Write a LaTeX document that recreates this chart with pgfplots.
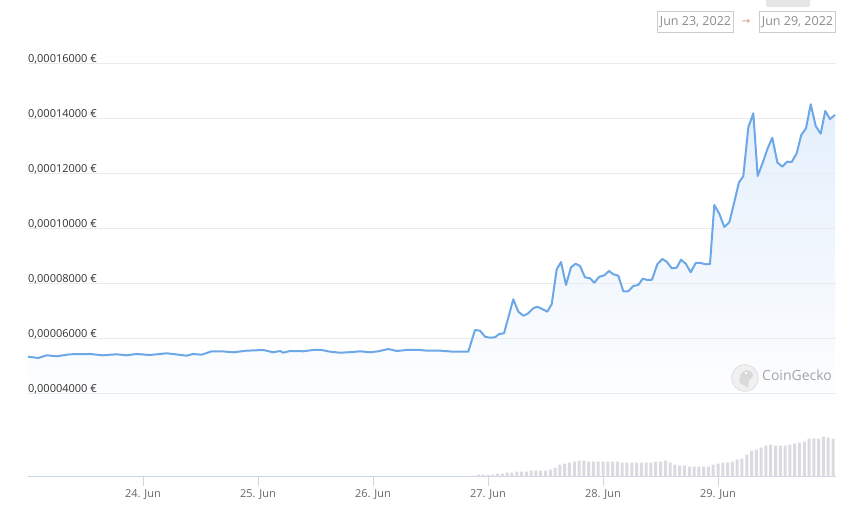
\documentclass[border=0pt]{standalone}
\usepackage{pgfplots}
\pgfplotsset{compat=1.18}
\usepackage{pgfplotstable}
\usepackage{fontspec}
\setmainfont{Open Sans}
\newfontfamily\dejavu{DejaVu Sans}
\definecolor{linec}{RGB}{108,168,232}
\definecolor{fillc}{RGB}{228,239,252}
\definecolor{gridc}{RGB}{235,235,235}
\definecolor{axisc}{RGB}{204,214,235}
\definecolor{volc}{RGB}{218,218,224}
\definecolor{ylab}{RGB}{51,51,51}
\definecolor{xlab}{RGB}{102,102,102}
\definecolor{datec}{RGB}{140,140,140}
\definecolor{boxc}{RGB}{204,204,204}
\definecolor{arrowc}{RGB}{214,150,120}
\definecolor{topbox}{RGB}{230,230,230}
\definecolor{wmark}{RGB}{165,165,165}

\pgfplotstableread{
h v
0 5.356e-5
2.15 5.309e-5
3.90 5.407e-5
5.99 5.371e-5
8.77 5.444e-5
12.94 5.455e-5
15.65 5.407e-5
18.51 5.444e-5
20.60 5.407e-5
22.69 5.455e-5
25.46 5.418e-5
28.95 5.480e-5
33.12 5.393e-5
34.43 5.455e-5
36.25 5.429e-5
38.34 5.553e-5
40.42 5.553e-5
42.85 5.516e-5
45.64 5.575e-5
49.11 5.600e-5
51.19 5.516e-5
52.59 5.564e-5
53.28 5.502e-5
54.68 5.564e-5
57.45 5.553e-5
59.54 5.600e-5
61.29 5.600e-5
63.03 5.538e-5
65.11 5.502e-5
67.89 5.527e-5
69.29 5.553e-5
71.37 5.516e-5
73.11 5.553e-5
75.19 5.636e-5
76.95 5.564e-5
79.03 5.600e-5
81.81 5.600e-5
83.21 5.575e-5
85.98 5.575e-5
88.76 5.538e-5
91.89 5.538e-5
93.29 6.327e-5
94.33 6.302e-5
95.37 6.084e-5
96.42 6.047e-5
97.46 6.062e-5
98.36 6.182e-5
99.34 6.207e-5
101.28 7.444e-5
102.32 6.993e-5
103.37 6.847e-5
104.41 6.935e-5
105.45 7.116e-5
106.29 7.175e-5
107.42 7.080e-5
108.38 6.993e-5
109.29 7.262e-5
110.34 8.535e-5
111.24 8.800e-5
112.28 7.964e-5
113.32 8.607e-5
114.30 8.738e-5
115.20 8.655e-5
116.24 8.244e-5
117.29 8.207e-5
118.18 8.047e-5
119.23 8.265e-5
120.27 8.316e-5
121.25 8.473e-5
122.15 8.353e-5
123.19 8.302e-5
124.24 7.735e-5
125.28 7.735e-5
126.32 7.927e-5
127.37 7.964e-5
128.29 8.193e-5
129.30 8.145e-5
130.23 8.156e-5
131.33 8.716e-5
132.38 8.909e-5
133.29 8.811e-5
134.34 8.571e-5
135.38 8.593e-5
136.28 8.884e-5
137.32 8.727e-5
138.30 8.425e-5
139.35 8.764e-5
140.39 8.764e-5
141.43 8.716e-5
142.33 8.727e-5
143.23 10.873e-5
144.27 10.556e-5
145.32 10.073e-5
146.36 10.244e-5
147.34 10.935e-5
148.38 11.698e-5
149.28 11.916e-5
150.33 13.698e-5
151.37 14.207e-5
152.28 11.927e-5
153.33 12.411e-5
154.37 12.935e-5
155.33 13.320e-5
156.38 12.425e-5
157.42 12.265e-5
158.40 12.447e-5
159.38 12.436e-5
160.42 12.753e-5
161.38 13.418e-5
162.37 13.662e-5
163.35 14.535e-5
164.39 13.745e-5
165.43 13.465e-5
166.39 14.291e-5
167.37 14.000e-5
168.42 14.145e-5
}\pricedata

\pgfplotstableread{
h vol
93 1.3
94 2.3
95 2.3
96 2.3
97 2.3
98 3.3
99 3.3
100 4.3
101 4.3
102 5.3
103 5.3
104 5.3
105 6.3
106 6.3
107 6.3
108 6.3
109 7.3
110 9.3
111 12.3
112 13.3
113 14.3
114 15.3
115 16.3
116 16.3
117 15.3
118 15.3
119 15.3
120 15.3
121 15.3
122 15.3
123 15.3
124 14.3
125 14.3
126 14.3
127 14.3
128 14.3
129 14.3
130 14.3
131 15.3
132 15.3
133 16.3
134 14.3
135 12.3
136 11.3
137 11.3
138 10.3
139 10.3
140 10.3
141 10.3
142 10.3
143 12.3
144 13.3
145 14.3
146 14.3
147 15.3
148 17.3
149 18.3
150 22.3
151 26.3
152 27.3
153 29.3
154 31.3
155 32.3
156 31.3
157 31.3
158 31.3
159 32.3
160 33.3
161 34.3
162 35.3
163 38.3
164 38.3
165 38.3
166 40.3
167 39.3
168 38.3
}\voldata

\pgfplotsset{
  pricepane/.style={
    at={(28bp,92bp)}, anchor=south west,
    width=808bp, height=380bp, scale only axis,
    xmin=0, xmax=168.63, ymin=3.0545e-5, ymax=16.8727e-5,
    axis line style={draw=none}, xtick=\empty,
    scaled y ticks=false, major tick length=0pt,
  }
}

\begin{document}
\begin{tikzpicture}[x=1bp,y=1bp]
\path[use as bounding box] (0,0) rectangle (849,512);

% volume pane with time axis
\begin{axis}[
  at={(28bp,35bp)}, anchor=south west,
  width=808bp, height=100bp, scale only axis,
  xmin=0, xmax=168.63, ymin=0, ymax=100,
  axis x line*=bottom, axis y line=none,
  x axis line style={draw=axisc, line width=1bp, -},
  xtick={24,48,72,96,120,144},
  xticklabels={24. Jun,25. Jun,26. Jun,27. Jun,28. Jun,29. Jun},
  tick align=outside, major tick length=9bp,
  x tick style={draw=axisc, line width=1bp},
  xticklabel style={font=\fontsize{11bp}{13bp}\selectfont, text=xlab},
]
\addplot[ybar, bar width=3bp, fill=volc, draw=none] table[x=h,y=vol]{\voldata};
\end{axis}

% price pane: area fill (behind the grid)
\begin{axis}[pricepane, ytick=\empty]
\addplot[draw=none, top color=fillc, bottom color=white] table[x=h,y=v]{\pricedata} \closedcycle;
\end{axis}

% price pane: grid, labels, line
\begin{axis}[pricepane,
  ytick={4e-5,6e-5,8e-5,10e-5,12e-5,14e-5,16e-5},
  yticklabels={{0,00004000 €},{0,00006000 €},{0,00008000 €},{0,00010000 €},{0,00012000 €},{0,00014000 €},{0,00016000 €}},
  ymajorgrids, grid style={draw=gridc, line width=1bp},
  yticklabel style={anchor=base west, inner sep=0pt, yshift=1.5bp, font=\fontsize{11bp}{13bp}\selectfont, text=ylab},
]
\addplot[linec, line width=2bp, line join=round, mark=none] table[x=h,y=v]{\pricedata};
\end{axis}

% date range controls
\fill[topbox, rounded corners=2bp] (766,505) rectangle (810,516);
\draw[boxc, line width=1bp] (657.3,479.7) rectangle (733.7,500.7);
\node[text=datec, font=\fontsize{12.5bp}{15bp}\selectfont, inner sep=0pt] at (695.5,490.2) {Jun 23, 2022};
\node[text=arrowc, font=\dejavu\fontsize{10bp}{12bp}\selectfont, inner sep=0pt] at (746,490.2) {→};
\draw[boxc, line width=1bp] (759.3,479.7) rectangle (835.7,500.7);
\node[text=datec, font=\fontsize{12.5bp}{15bp}\selectfont, inner sep=0pt] at (797.5,490.2) {Jun 29, 2022};

% watermark
\fill[gray!12] (745,134) circle (13.3);
\draw[gray!25, line width=0.8bp] (745,134) circle (13.3);
\fill[gray!30] (740,129) .. controls (738,138) and (744,144) .. (750,141) .. controls (755,139) and (753,133) .. (749,132) -- (748,124) -- cycle;
\fill[white] (746,139) circle (1.4);
\node[anchor=west, text=wmark, font=\fontsize{14bp}{16bp}\selectfont, inner sep=0pt] at (762,137) {CoinGecko};
\end{tikzpicture}
\end{document}
